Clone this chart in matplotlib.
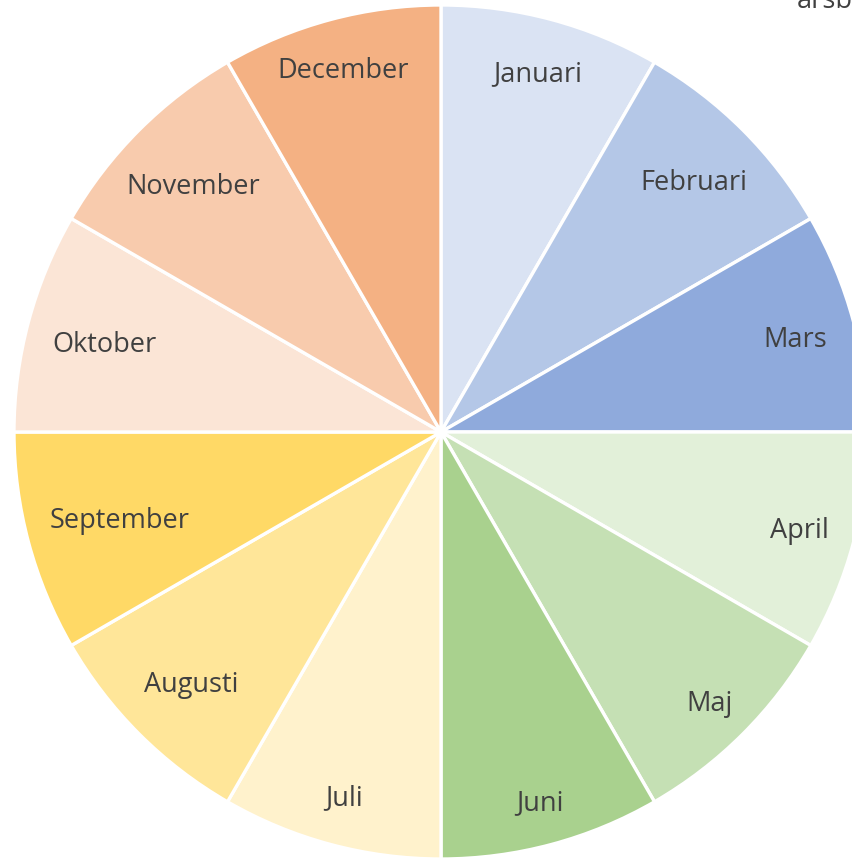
import matplotlib
matplotlib.use("Agg")
import matplotlib.pyplot as plt
import numpy as np

months = ["Januari", "Februari", "Mars", "April", "Maj", "Juni",
          "Juli", "Augusti", "September", "Oktober", "November", "December"]
values = [1, 1, 1, 1, 1, 1, 1, 1, 1, 1, 1, 1]
colors = ["#DAE3F3", "#B4C7E7", "#8FAADC", "#E2F0D9", "#C5E0B4", "#A9D18E",
          "#FFF2CC", "#FFE699", "#FFD966", "#FBE5D6", "#F8CBAD", "#F4B183"]
label_dist = [0.874, 0.836, 0.86, 0.869, 0.89, 0.892,
              0.88, 0.827, 0.778, 0.815, 0.822, 0.883]

W, H = 853, 859
fig = plt.figure(figsize=(W / 100, H / 100), dpi=100)
ax = fig.add_axes([0, 0, 1, 1])

cx, cy, R = 441, H - 432, 427
wedges, _ = ax.pie(values, colors=colors, startangle=90, counterclock=False,
                   center=(cx, cy), radius=R,
                   wedgeprops=dict(edgecolor="white", linewidth=2.4))

total = sum(values)
cum = 0
for m, v, d in zip(months, values, label_dist):
    mid = 90 - 360 * (cum + v / 2) / total
    cum += v
    a = np.deg2rad(mid)
    ax.text(cx + d * R * np.cos(a), cy + d * R * np.sin(a) - 3, m,
            ha="center", va="center", fontsize=19.5, color="#404040",
            family=["Open Sans", "DejaVu Sans"])

ax.text(853, H - 8, "årsb", ha="right", va="baseline", fontsize=19.5,
        color="#404040", family=["Open Sans", "DejaVu Sans"])

ax.set_xlim(0, W)
ax.set_ylim(0, H)
ax.set_aspect("auto")
ax.axis("off")
fig.savefig("out.png", dpi=100, facecolor="white")
